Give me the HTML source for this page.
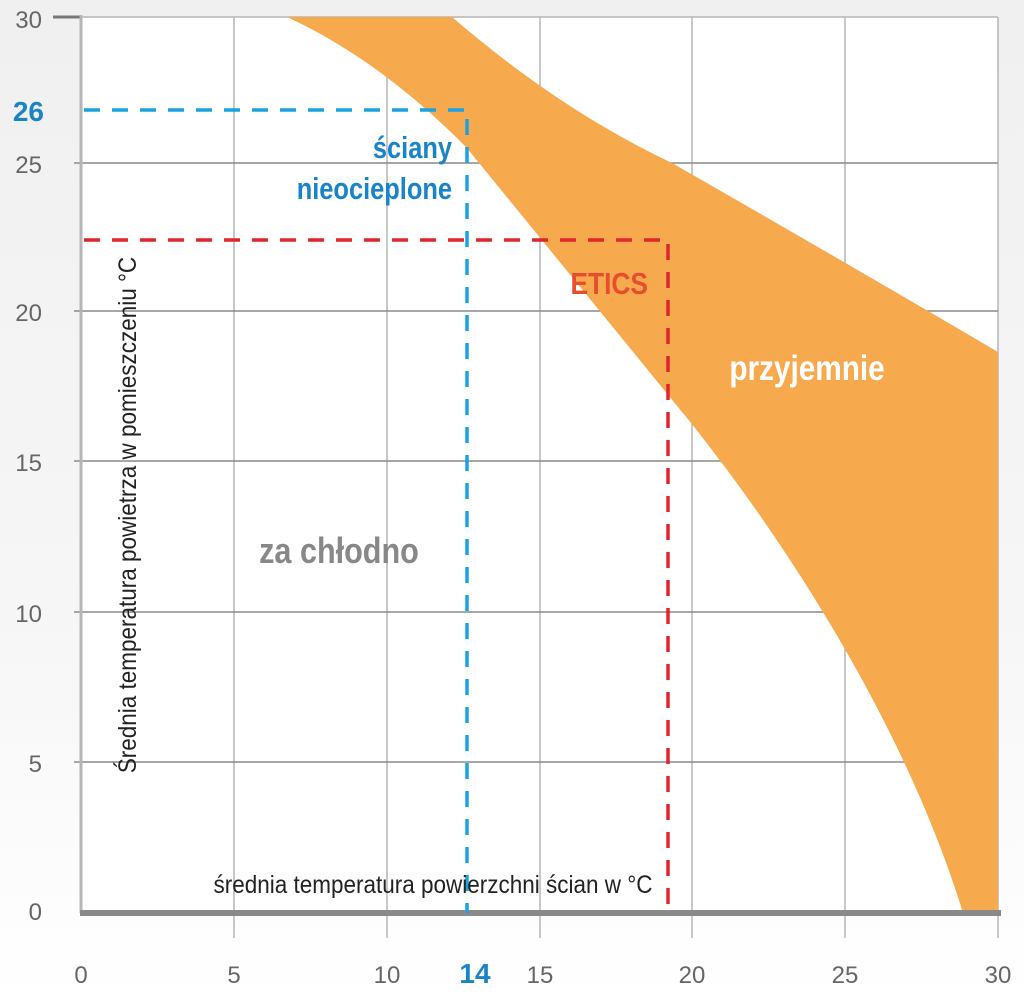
<!DOCTYPE html>
<html><head><meta charset="utf-8"><style>
body{margin:0;width:1024px;height:1002px;overflow:hidden;background:linear-gradient(#f0f0f0,#f6f6f6 60%,#fff);}
svg{display:block}
</style></head><body>
<svg width="1024" height="1002" xmlns="http://www.w3.org/2000/svg" font-family="Liberation Sans, sans-serif">
<rect x="81" y="17" width="917" height="896" fill="#fff"/>
<g stroke="#b5b5b5" stroke-width="1.5">
<line x1="234" y1="17" x2="234" y2="938"/><line x1="387" y1="17" x2="387" y2="938"/>
<line x1="540" y1="17" x2="540" y2="938"/><line x1="692" y1="17" x2="692" y2="938"/>
<line x1="845" y1="17" x2="845" y2="938"/><line x1="998" y1="17" x2="998" y2="938"/>
<line x1="81" y1="17" x2="998" y2="17"/>
</g>
<g stroke="#8a8a8a" stroke-width="1.5">
<line x1="74" y1="163" x2="998" y2="163"/><line x1="74" y1="311" x2="998" y2="311"/>
<line x1="74" y1="461" x2="998" y2="461"/><line x1="74" y1="612" x2="998" y2="612"/>
<line x1="74" y1="762" x2="998" y2="762"/>
</g>
<line x1="53" y1="17" x2="81" y2="17" stroke="#777" stroke-width="3"/>
<line x1="81" y1="15" x2="81" y2="913" stroke="#b5b5b5" stroke-width="3"/>
<path d="M287,17 L452,17 Q560,110 672,163 Q850,265 998,352 L998,913 L963,913 C910,740 800,560 691,423 L466,147 Q380,60 287,17 Z" fill="#f7a94e"/>
<line x1="80" y1="913" x2="1001" y2="913" stroke="#8a8a8a" stroke-width="6"/>
<g stroke-width="3.5" stroke-dasharray="16,12" fill="none">
<path d="M84,110 H467 V913" stroke="#1aa3e0"/>
<path d="M84,240 H668 V913" stroke="#e1252b"/>
</g>
<g fill="#666" font-size="24" text-anchor="end">
<text x="42" y="28">30</text><text x="42" y="173">25</text><text x="42" y="321">20</text>
<text x="42" y="471">15</text><text x="42" y="622">10</text><text x="42" y="772">5</text><text x="42" y="920">0</text>
</g>
<text x="44" y="121" fill="#1a84c8" font-size="28" font-weight="bold" text-anchor="end">26</text>
<g fill="#666" font-size="24" text-anchor="middle">
<text x="81" y="983">0</text><text x="234" y="983">5</text><text x="387" y="983">10</text>
<text x="540" y="983">15</text><text x="692" y="983">20</text><text x="845" y="983">25</text><text x="998" y="983">30</text>
</g>
<text x="475" y="983" fill="#1a84c8" font-size="28" font-weight="bold" text-anchor="middle">14</text>
<text transform="translate(433,893) scale(0.9,1)" fill="#222" font-size="25" text-anchor="middle">średnia temperatura powierzchni ścian w °C</text>
<text transform="translate(136,515) rotate(-90) scale(0.9,1)" fill="#222" font-size="25" text-anchor="middle">Średnia temperatura powietrza w pomieszczeniu °C</text>
<g font-weight="bold">
<text transform="translate(452,158) scale(0.82,1)" fill="#1a84c8" text-anchor="end" font-size="31">ściany</text>
<text transform="translate(452,199) scale(0.82,1)" fill="#1a84c8" text-anchor="end" font-size="31">nieocieplone</text>
<text transform="translate(648,294) scale(0.85,1)" fill="#e84e2d" text-anchor="end" font-size="31">ETICS</text>
<text transform="translate(807,380) scale(0.85,1)" fill="#fff" text-anchor="middle" font-size="35">przyjemnie</text>
<text transform="translate(339,563) scale(0.85,1)" fill="#888" text-anchor="middle" font-size="36">za chłodno</text>
</g>
</svg>
</body></html>
